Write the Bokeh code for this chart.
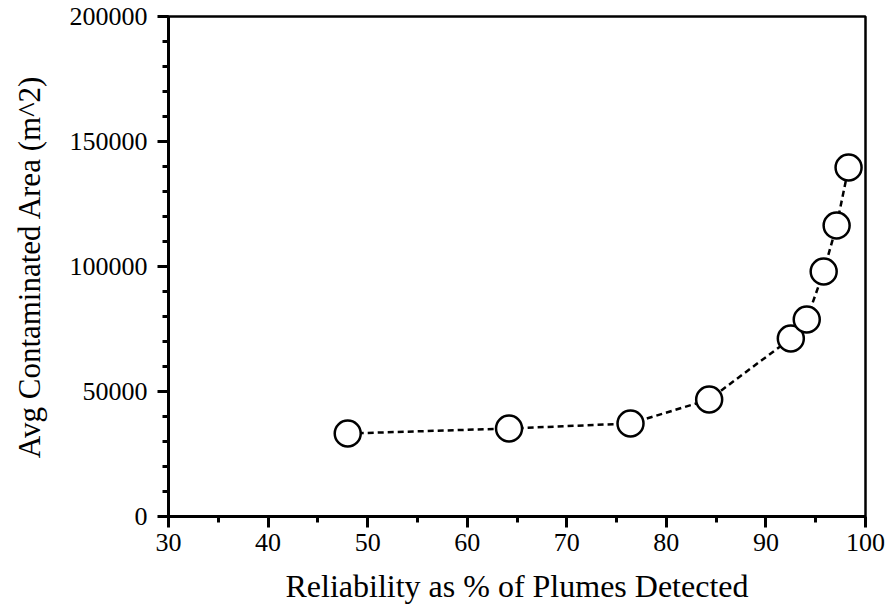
from bokeh.plotting import figure
from bokeh.models import Range1d, FixedTicker, BasicTickFormatter
from bokeh.embed import file_html
from bokeh.resources import INLINE

reliability = [48.0, 64.2, 76.4, 84.3, 92.5, 94.1, 95.8, 97.1, 98.3]
avg_area = [33200, 35200, 37200, 46800, 71200, 78800, 98000, 116400, 139600]

x_ticks = [30, 40, 50, 60, 70, 80, 90, 100]
x_minor = [35, 45, 55, 65, 75, 85, 95]
y_ticks = [0, 50000, 100000, 150000, 200000]
y_minor = [i * 10000 for i in range(21)]

FONT = "Liberation Serif"

p = figure(width=886, height=615, output_backend="svg", toolbar_location=None,
           x_range=Range1d(30, 100), y_range=Range1d(0, 200000),
           min_border_left=168, min_border_right=21, min_border_top=16, min_border_bottom=99)
p.xgrid.visible = False
p.ygrid.visible = False
p.outline_line_color = "black"
p.outline_line_width = 2.5
p.background_fill_color = "white"
p.border_fill_color = "white"

p.line(reliability, avg_area, line_color="black", line_width=2.5, line_dash="6 4")
p.scatter(reliability, avg_area, size=26, fill_color="white", line_color="black", line_width=2.5)

for ax in (p.xaxis[0], p.yaxis[0]):
    ax.axis_line_width = 3
    ax.major_tick_line_width = 3
    ax.minor_tick_line_width = 3
    ax.major_tick_out = 11
    ax.major_tick_in = 0
    ax.minor_tick_out = 6
    ax.minor_tick_in = 0
    ax.major_label_text_font = FONT
    ax.major_label_text_font_size = "26px"
    ax.major_label_text_color = "black"
    ax.axis_label_text_font = FONT
    ax.axis_label_text_font_size = "32px"
    ax.axis_label_text_font_style = "normal"
    ax.axis_label_text_color = "black"

p.yaxis[0].axis_label_text_font_size = "31px"
p.xaxis[0].ticker = FixedTicker(ticks=x_ticks, minor_ticks=x_minor)
p.yaxis[0].ticker = FixedTicker(ticks=y_ticks, minor_ticks=y_minor)
p.yaxis[0].formatter = BasicTickFormatter(use_scientific=False)
p.xaxis[0].axis_label = "Reliability as % of Plumes Detected"
p.yaxis[0].axis_label = "Avg Contaminated Area (m^2)"
p.xaxis[0].major_label_standoff = 6
p.yaxis[0].major_label_standoff = 10
p.xaxis[0].axis_label_standoff = 14
p.yaxis[0].axis_label_standoff = 20

open("out.html", "w").write(file_html(p, INLINE))
